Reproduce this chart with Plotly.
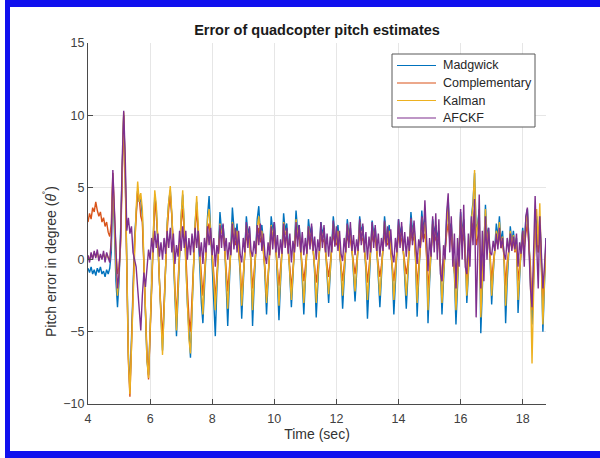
import plotly.graph_objects as go

# ---------------- data (sampled every 0.05 s starting at 4.00 s) ----------------
t_start = 4.0
t_step = 0.05

madgwick = [
    -0.6, -0.9, -0.5, -1.0, -0.7, -1.1, -0.6, -0.9, -0.5, -1.0, -0.8, -1.2, -0.7, -1.0, -0.6, 0.5,
    5.5, 2.0, -1.5, -3.3, -1.5, 2.0, 6.5, 10.0, 6.0, -1.5, -6.5, -9.0, -6.0, -2.0,
    1.5, 3.5, 4.8, 4.0, 4.2, 3.0, -0.5, -4.0, -7.0, -8.0, -4.5, -1.0,
    2.0, 4.5, 3.5, 1.0, -2.5, -5.0, -6.3, -3.5, 0.0, 2.5, 4.0, 4.8, 3.0, 0.5, -3.0, -5.3,
    -2.5, 0.5, 3.0, 4.5, 2.5, 0.0, -3.0, -5.5, -6.8, -3.5, 0.0, 2.5, 4.0, 2.0, -0.5, -3.0,
    -4.4, -2.0, 1.0, 3.0, 4.4, 2.0, 0.5, -2.0,
    -5.3, -2.0, 1.0, 3.3, 2.0, 2.4, 1.2, -1.2,
    -4.6, -1.8, 0.8, 3.6, 2.2, 1.5, 2.5, 1.0, -1.0,
    -4.1, -1.5, 1.2, 3.0, 1.8, 2.2, -0.5,
    -4.6, -1.8, 1.0, 2.8, 3.7, 1.8, 2.4, 1.2, -1.2,
    -3.8, -1.5, 1.0, 3.0, 2.0, 2.6, 1.2, -1.0,
    -4.2, -1.6, 1.0, 3.2, 2.0, 2.5, 1.0, -1.2,
    -3.3, -1.2, 1.2, 3.4, 2.0, 2.4, 1.0, -1.0,
    -3.8, -1.4, 1.0, 2.8, 1.8, 2.3, 1.0, -1.0,
    -4.0, -1.5, 1.0, 2.6, 1.8, 2.2, 0.8, -0.9,
    -3.0, -1.0, 1.2, 3.0, 1.8, 1.4, 2.4, 1.0, -0.8,
    -3.4, -1.2, 1.0, 2.8, 1.8, 2.2, 0.9, -0.8,
    -2.9, -1.0, 1.2, 3.0, 2.0, 2.3, 1.0, -0.8,
    -4.1, -1.5, 1.0, 2.7, 1.8, 2.2, 0.8, -1.0,
    -3.3, -1.2, 1.0, 3.0, 1.9, 1.5, 2.4, 1.0, -0.8,
    -3.8, -1.4, 1.0, 2.8, 1.8, 2.3, 0.9, -0.9,
    -3.4, -1.2, 1.2, 3.3, 2.0, 2.5, 0.0,
    -3.95, -1.3, 1.2, 3.4, 2.0, 3.0, 1.0,
    -4.4, -1.6, 1.0, 2.8, 1.8, 2.4, 1.5, 2.0, -0.5,
    -3.8, -1.4, 1.0, 2.8, 4.2, 2.0, 2.5, 1.0, -1.0,
    -4.5, -1.5, 1.5, 3.3, 1.8, 2.8, 0.5,
    -3.0, -1.0, 1.5, 3.0, 4.0, 6.0, 2.0, 2.5, 3.5,
    -5.1, -2.0, 1.0, 3.8, 1.5, 2.2, 0.0,
    -3.1, -1.0, 1.2, 2.5, 1.5, 3.0, 1.2, 2.0, 0.0,
    -4.4, -1.5, 1.0, 2.3, 1.2, 2.0, 0.8, 1.5,
    -3.7, -1.0, 1.0, 2.2, 1.0, 2.8, 3.5, 1.5, -1.0,
    -4.5, -1.5, 2.0, 3.0, 0.5, 3.0, 0.0,
    -5.0, -2.0, 1.5,
]

complementary = [
    2.6, 3.2, 2.8, 3.6, 3.3, 4.0, 3.4, 3.0, 3.3, 2.6, 2.9, 2.3, 2.6, 1.9, 1.6, 2.5,
    6.0, 3.0, 0.5, -1.0, -0.5, 1.0, 6.0, 10.0, 5.5, -2.0, -7.0, -9.5, -6.5, -2.5,
    1.0, 3.0, 4.8, 4.3, 3.0, 2.6, -0.5, -3.5, -6.5, -8.3, -5.0, -1.0,
    2.0, 4.2, 3.0, 1.5, -1.5, -4.0, -5.5, -3.0, 0.0, 2.0, 3.5, 4.5, 3.0, 1.0, -2.0, -4.0,
    -1.5, 0.5, 2.5, 3.5, 2.0, 0.5, -2.0, -4.0, -5.0, -2.5, 0.0, 2.0, 3.5, 2.0, 0.0, -1.5,
    -2.5, -1.0, 0.5, 2.0, 2.5, 1.5, 0.5, -1.0,
    -2.8, -1.0, 0.5, 1.8, 1.5, 1.8, 0.8, -0.5,
    -2.2, -0.8, 0.5, 2.0, 1.5, 1.0, 1.6, 0.6, -0.4,
    -2.5, -0.8, 0.6, 1.8, 1.2, 1.5, -0.2,
    -2.0, -0.8, 0.6, 1.6, 2.2, 1.2, 1.6, 0.5, -0.6,
    -2.6, -1.0, 0.4, 1.8, 1.3, 1.6, 0.6, -0.5,
    -1.8, -0.6, 0.6, 1.8, 1.3, 1.5, 0.5, -0.5,
    -2.0, -0.7, 0.6, 1.9, 1.4, 1.6, 0.6, -0.4,
    -1.5, -0.5, 0.6, 1.7, 1.2, 1.5, 0.6, -0.3,
    -1.6, -0.5, 0.6, 1.6, 1.2, 1.4, 0.5, -0.3,
    -1.2, -0.3, 0.7, 1.8, 1.2, 1.0, 1.6, 0.6, -0.2,
    -1.5, -0.4, 0.6, 1.7, 1.2, 1.4, 0.6, -0.2,
    -1.0, -0.2, 0.8, 1.8, 1.3, 1.5, 0.6, -0.2,
    -1.6, -0.5, 0.6, 1.7, 1.2, 1.5, 0.5, -0.3,
    -1.2, -0.4, 0.7, 1.8, 1.2, 1.0, 1.6, 0.6, -0.2,
    -1.5, -0.5, 0.6, 1.7, 1.2, 1.5, 0.6, -0.3,
    -1.0, -0.3, 0.8, 1.9, 1.3, 1.6, 0.2,
    -1.8, -0.5, 0.7, 1.9, 1.4, 1.8, 0.4,
    -2.0, -0.6, 0.6, 1.8, 1.2, 1.6, 1.0, 1.2, -0.3,
    -1.5, -0.5, 0.8, 1.8, 2.5, 1.4, 1.6, 0.5, -0.5,
    -2.0, -0.5, 0.8, 2.0, 1.2, 1.8, 0.2,
    -1.5, -0.3, 0.8, 2.0, 2.5, 3.5, 1.0, 1.5, 2.0,
    -2.5, -0.8, 0.8, 2.2, 1.0, 1.5, 0.3,
    -1.5, -0.3, 0.6, 1.5, 1.0, 1.8, 0.8, 1.2, 0.2,
    -1.8, -0.2, 0.6, 1.4, 0.8, 1.3, 0.5, 1.0,
    -1.5, -0.3, 0.5, 1.5, 0.8, 1.8, 2.5, 1.0, -0.5,
    -3.5, -1.0, 1.5, 2.5, 0.5, 2.5, -0.5,
    -3.0, -1.0, 0.8,
]

kalman = [
    0.2, 0.0, 0.4, 0.1, 0.5, 0.2, 0.5, 0.0, 0.3, 0.1, 0.4, 0.0, 0.4, 0.1, 0.0, 1.2,
    5.8, 2.5, -0.5, -2.5, -1.0, 1.5, 6.5, 10.2, 6.0, -1.5, -6.8, -9.3, -6.2, -2.0,
    1.5, 3.5, 5.4, 4.0, 4.6, 3.5, 0.0, -4.0, -7.0, -8.2, -5.0, -1.0,
    2.2, 4.8, 3.8, 1.2, -2.0, -4.8, -6.6, -3.5, 0.0, 2.5, 4.0, 5.1, 3.2, 0.5, -2.8, -4.9,
    -2.0, 0.8, 3.0, 4.8, 2.5, 0.0, -3.0, -5.5, -6.5, -3.5, 0.2, 2.5, 4.4, 2.3, -0.3, -2.5,
    -3.8, -1.5, 1.0, 2.8, 3.5, 2.0, 0.5, -1.5,
    -3.5, -1.5, 0.8, 2.5, 1.8, 2.0, 1.0, -0.8,
    -3.4, -1.2, 0.6, 2.6, 2.0, 1.3, 2.0, 0.8, -0.6,
    -3.2, -1.0, 1.0, 2.4, 1.5, 1.8, -0.4,
    -3.5, -1.2, 0.8, 2.2, 3.0, 1.5, 2.0, 0.8, -0.8,
    -3.0, -1.2, 0.8, 2.4, 1.6, 2.1, 0.9, -0.7,
    -3.2, -1.0, 0.8, 2.6, 1.7, 2.0, 0.8, -0.8,
    -2.8, -1.0, 0.9, 2.8, 1.7, 2.0, 0.8, -0.7,
    -3.0, -1.0, 0.8, 2.3, 1.5, 1.9, 0.8, -0.6,
    -3.0, -1.0, 0.8, 2.2, 1.5, 1.8, 0.7, -0.6,
    -2.4, -0.8, 1.0, 2.5, 1.5, 1.2, 2.0, 0.8, -0.5,
    -2.5, -0.9, 0.9, 2.4, 1.5, 1.8, 0.8, -0.5,
    -2.2, -0.7, 1.0, 2.6, 1.6, 1.9, 0.8, -0.5,
    -2.8, -1.0, 0.8, 2.3, 1.5, 1.8, 0.7, -0.6,
    -2.5, -0.9, 0.9, 2.6, 1.6, 1.2, 2.0, 0.8, -0.5,
    -2.8, -1.0, 0.8, 2.4, 1.5, 1.9, 0.8, -0.6,
    -2.5, -0.8, 1.0, 2.8, 1.6, 2.1, 0.0,
    -3.0, -1.0, 0.9, 2.9, 1.7, 2.6, 0.8,
    -3.5, -1.2, 0.8, 2.5, 1.5, 2.0, 1.2, 1.6, -0.4,
    -3.0, -1.0, 0.9, 2.5, 3.8, 1.8, 2.2, 0.8, -0.8,
    -3.5, -1.2, 1.2, 3.0, 1.6, 2.5, 0.4,
    -2.5, -0.8, 1.2, 2.8, 3.8, 6.2, 1.5, 2.3, 3.2,
    -4.0, -1.5, 1.0, 3.5, 1.2, 2.0, 0.2,
    -2.5, -0.8, 0.9, 2.0, 1.3, 2.6, 1.0, 1.6, 0.1,
    -3.2, -0.8, 0.8, 2.0, 1.0, 1.7, 0.6, 1.2,
    -2.8, -0.8, 0.8, 2.0, 1.0, 2.5, 3.2, 1.2, -1.5,
    -7.2, -2.0, 2.5, 3.5, 1.0, 3.9, 0.0,
    -4.5, -1.5, 1.0,
]

afckf = [
    0.3, -0.2, 0.5, 0.0, 0.6, 0.1, 0.7, -0.1, 0.4, 0.0, 0.6, -0.2, 0.5, 0.1, -0.2, 1.5,
    6.2, 3.5, 0.0, -2.0, -1.0, 1.5, 6.8, 10.3, 7.0, 2.0, 2.9, 1.8, 2.3, 0.5,
    0.0, -0.5, -2.0, -3.5, -4.9, -2.5, -0.9, -1.9, -0.2, 0.7, 0.0, 1.5,
    0.5, 2.0, 0.8, 1.8, 0.2, 1.2, 0.0, 1.5, 0.4, 2.0, 0.8, 2.2, 0.5, 1.8, -0.3, 1.0,
    0.2, 2.0, 0.6, 2.3, 0.8, 2.0, 0.0, 1.5, 0.3, 1.8, 0.5, 2.2, 0.8, 2.0, 0.2, 1.2,
    -0.3, 1.5, 0.5, 2.3, 1.0, 2.2, 0.3, 1.5,
    -0.5, 1.0, 0.4, 2.4, 0.8, 2.5, 0.6, 1.5,
    0.0, 1.2, 0.3, 2.5, 0.7, 2.2, 0.5, 2.0, 0.4,
    -0.2, 1.5, 0.5, 2.6, 0.8, 2.3, 0.6,
    0.2, 1.3, 0.4, 2.4, 1.0, 2.5, 0.6, 1.8, 0.3,
    -0.3, 1.2, 0.3, 2.3, 0.7, 2.6, 0.5, 1.7,
    0.1, 1.4, 0.4, 2.5, 0.8, 2.2, 0.4, 1.8,
    -0.2, 1.3, 0.5, 2.6, 0.9, 2.4, 0.5, 1.9,
    0.3, 1.5, 0.4, 2.3, 0.7, 2.5, 0.6, 1.6,
    0.0, 1.4, 0.6, 2.6, 0.8, 2.4, 0.5, 1.8,
    0.2, 1.6, 0.5, 2.7, 0.9, 2.3, 0.6, 2.0, 0.4,
    -0.1, 1.5, 0.5, 2.5, 0.8, 2.6, 0.6, 1.7,
    0.3, 1.4, 0.6, 2.8, 1.0, 2.5, 0.5, 1.9,
    0.0, 1.6, 0.5, 2.6, 0.8, 2.4, 0.6, 1.8,
    0.2, 1.5, 0.6, 2.7, 0.9, 2.3, 0.7, 2.1, 0.4,
    -0.2, 1.5, 0.5, 2.8, 0.8, 2.6, 0.6, 1.9,
    0.2, 1.6, 0.6, 2.9, 1.0, 2.7, 1.2,
    -0.3, 1.4, 0.8, 3.0, 1.2, 4.1, 1.5,
    -0.8, 1.5, 0.2, 3.0, 0.5, 3.2, 0.0, 2.8, -1.0,
    -1.5, 1.0, 0.0, 3.2, 4.6, 0.5, 3.0, -0.5, 1.8,
    -2.0, 1.5, -0.5, 3.5, 0.0, 3.8, -0.5,
    -1.0, 1.8, -0.5, 3.0, 1.0, 4.2, -4.0, 1.0, 4.5,
    -2.0, 2.0, -1.5, 3.0, 0.0, 2.2, 0.5,
    0.3, 1.3, 0.6, 1.8, 0.7, 2.2, 0.8, 1.5, 0.4,
    0.0, 1.5, 0.5, 1.8, 0.6, 1.6, 0.7, 1.8,
    -0.5, 1.2, 0.4, 2.0, -0.5, 3.0, 3.6, 0.0, -2.0,
    -3.3, 0.5, 4.4, 1.0, -2.0, 3.0, 0.0,
    -2.0, -0.5, 1.5,
]

series_names = ["Madgwick", "Complementary", "Kalman", "AFCKF"]
series_values = [madgwick, complementary, kalman, afckf]
series_colors = ["#0072BD", "#D95319", "#EDB120", "#7E2F8E"]

x_ticks = [4, 6, 8, 10, 12, 14, 16, 18]
y_ticks = [-10, -5, 0, 5, 10, 15]

# ---------------- figure ----------------
W, H = 600, 458
ML, MR, MT, MB = 88, 54, 43, 54
PW, PH = W - ML - MR, H - MT - MB
FONT = "Liberation Sans, Arial"


def px_x(px):
    return (px - ML) / PW


def px_y(py):
    return 1 - (py - MT) / PH


fig = go.Figure()
for name, vals, col in zip(series_names, series_values, series_colors):
    times = [round(t_start + t_step * i, 2) for i in range(len(vals))]
    fig.add_trace(go.Scatter(x=times, y=vals, mode="lines", name=name,
                             line=dict(color=col, width=1.4), showlegend=False))

axis_common = dict(
    showline=True, linecolor="#4a4a4a", linewidth=1, mirror=False,
    showgrid=True, gridcolor="#e6e6e6", gridwidth=1, zeroline=False,
    ticks="inside", ticklen=5, tickcolor="#4a4a4a",
    tickfont=dict(family=FONT, size=12.5, color="#404040"),
)

fig.update_layout(
    width=W, height=H,
    margin=dict(l=ML, r=MR, t=MT, b=MB),
    paper_bgcolor="white", plot_bgcolor="white",
    font=dict(family=FONT, color="#262626"),
    title=dict(text="<b>Error of quadcopter pitch estimates</b>",
               font=dict(size=14.5, color="#1a1a1a", family=FONT),
               x=px_x(317), xref="paper", xanchor="center",
               y=1 - 30 / H, yref="container", yanchor="middle"),
    xaxis=dict(range=[4, 18.75], tickvals=x_ticks, ticklabelstandoff=3,
               title=dict(text="Time (sec)", standoff=4,
                          font=dict(size=14, color="#333333")),
               **axis_common),
    yaxis=dict(range=[-10, 15], tickvals=y_ticks, **axis_common),
    showlegend=False,
)

# y-axis label
fig.add_annotation(text="Pitch error in degree (<i>θ</i><sup>˚</sup>)",
                   xref="paper", yref="paper", x=px_x(50), y=px_y(262),
                   xanchor="center", yanchor="middle", textangle=-90,
                   showarrow=False, font=dict(size=14, color="#333333"))

# legend box (drawn like the MATLAB legend)
leg_left, leg_right, leg_top, leg_bottom = 392, 535, 54, 127
fig.add_shape(type="rect", xref="paper", yref="paper", layer="above",
              x0=px_x(leg_left), x1=px_x(leg_right),
              y0=px_y(leg_bottom), y1=px_y(leg_top),
              fillcolor="white", line=dict(color="#595959", width=1))
row_y = [65.5, 83, 100.5, 118]
for name, col, ry in zip(series_names, series_colors, row_y):
    fig.add_shape(type="line", xref="paper", yref="paper", layer="above",
                  x0=px_x(397), x1=px_x(436), y0=px_y(ry), y1=px_y(ry),
                  line=dict(color=col, width=1.2))
    fig.add_annotation(text=name, xref="paper", yref="paper",
                       x=px_x(441), y=px_y(ry), xanchor="left", yanchor="middle",
                       showarrow=False,
                       font=dict(family=FONT, size=12.5, color="#262626"))

# blue frame around the figure
frame = "#1010EE"
fig.add_shape(type="rect", xref="paper", yref="paper", layer="above",
              x0=px_x(5), x1=px_x(605), y0=px_y(-3), y1=px_y(7),
              fillcolor=frame, line=dict(width=0))
fig.add_shape(type="rect", xref="paper", yref="paper", layer="above",
              x0=px_x(5), x1=px_x(605), y0=px_y(451), y1=px_y(461),
              fillcolor=frame, line=dict(width=0))
fig.add_shape(type="rect", xref="paper", yref="paper", layer="above",
              x0=px_x(5), x1=px_x(10), y0=px_y(461), y1=px_y(-3),
              fillcolor=frame, line=dict(width=0))

fig.write_html("out.html")
